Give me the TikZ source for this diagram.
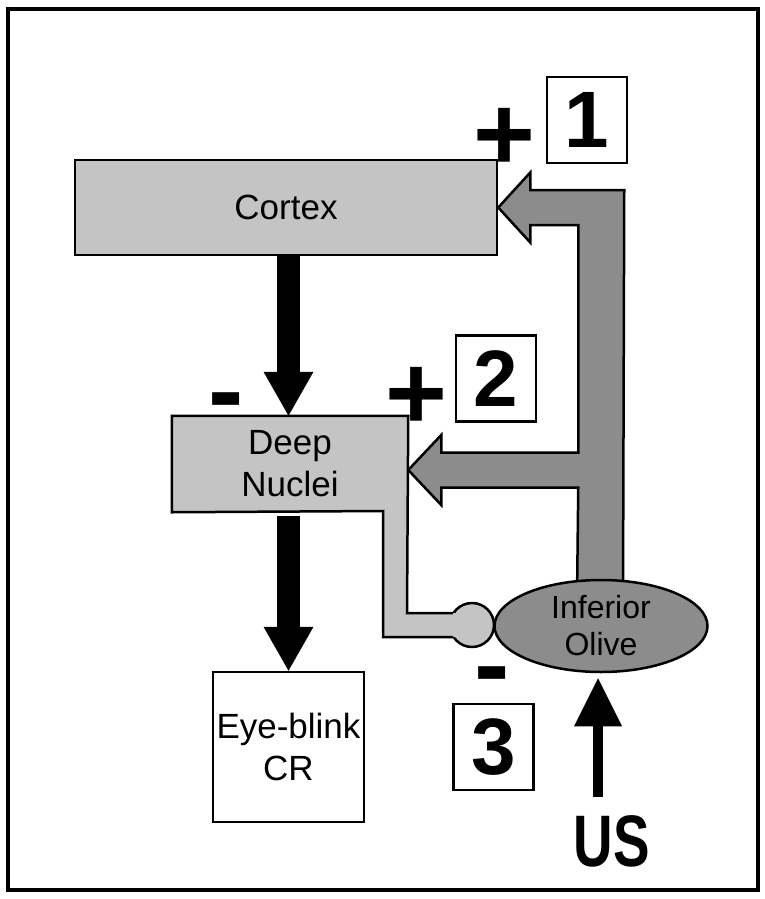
\documentclass[tikz,border=0pt]{standalone}
\usepackage{fontspec}
\setmainfont{Liberation Sans}
\usetikzlibrary{arrows.meta,positioning,shapes.geometric,calc,backgrounds}

\definecolor{lightcell}{gray}{0.77}
\definecolor{darkcell}{gray}{0.55}

\begin{document}
\begin{tikzpicture}[x=1pt, y=-1pt, line join=miter]
  % Styles
  \tikzstyle{region}=[draw, line width=2.5pt, fill=lightcell, inner sep=0pt, align=center, font=\fontsize{35}{42}\selectfont]
  \tikzstyle{outbox}=[draw, line width=2.5pt, fill=white, inner sep=0pt, align=center, font=\fontsize{35}{42}\selectfont]
  \tikzstyle{olivebox}=[ellipse, draw, line width=2.5pt, fill=darkcell, inner sep=0pt, align=center, minimum width=213pt, minimum height=92pt, font=\fontsize{32}{37}\selectfont]
  \tikzstyle{synapse}=[circle, draw, line width=2.5pt, fill=lightcell, inner sep=0pt, minimum size=44pt]
  \tikzstyle{numbox}=[draw, line width=2.5pt, inner sep=0pt, minimum width=80pt, minimum height=86pt, font=\fontsize{80}{80}\selectfont\bfseries]
  \tikzstyle{sign}=[inner sep=0pt, font=\fontsize{106}{106}\selectfont\bfseries]
  \tikzstyle{climb}=[draw, line width=2.5pt, fill=darkcell]
  \tikzstyle{bigarrow}=[line width=23pt, -{Triangle[width=50pt, length=44pt, line width=0pt]}]
  \tikzstyle{usarrow}=[line width=10pt, -{Triangle[width=48pt, length=48pt, line width=0pt]}]

  \useasboundingbox (0,0) rectangle (765,899);
  \draw[line width=3.5pt] (8,9) rectangle (758,890);

  % Boxes
  \node[region, minimum width=422pt, minimum height=95pt] (cortex) at (286,207.5) {Cortex};
  \node[region, draw=none, fill=none, minimum width=234pt, minimum height=94pt] (deep) at (290,464) {Deep\\Nuclei};
  \node[outbox, minimum width=151pt, minimum height=150pt] (cr) at (288.5,747) {Eye-blink\\CR};
  \node[olivebox] (olive) at (601,626) {Inferior\\Olive};

  % Deep nuclei body, inhibitory synapse and climbing fibres
  \begin{scope}[on background layer]
    \node[synapse] (inh) at (472,625) {};
    \fill[lightcell] (deep.north west) -- (deep.north east) -- (407,613) -- (465,613) -- (465,637)
      -- (383,637) -- (383,511) -- (deep.south west) -- cycle;
    \draw[line width=2.5pt] (453,613) -- (407,613) -- (deep.north east) -- (deep.north west)
      -- (deep.south west) -- (383,511) -- (383,637) -- (453,637);

    \coordinate (t1) at (cortex.east);
    \coordinate (t2) at ([yshift=-6pt]deep.east);
    \filldraw[climb] ($(olive.north)+(-24,20)$) -- ($(t2)+(170,17.5)$) -- ($(t2)+(33,17.5)$)
      -- ($(t2)+(33,35)$) -- (t2) -- ($(t2)+(33,-35)$) -- ($(t2)+(33,-17.5)$)
      -- ($(t2)+(170,-17.5)$) -- ($(t1)+(80,17.5)$) -- ($(t1)+(32,17.5)$) -- ($(t1)+(32,35)$)
      -- (t1) -- ($(t1)+(32,-35)$) -- ($(t1)+(32,-17.5)$) -- ($(t1)+(126,-17.5)$)
      -- ($(olive.north)+(22,20)$) -- cycle;
  \end{scope}

  % Main pathway
  \draw[bigarrow] (cortex.south -| cr.north) -- (deep.north -| cr.north);
  \draw[bigarrow, shorten <=4pt] (deep.south -| cr.north) -- (cr.north);

  % Signs and numbered sites
  \node[sign] (plus1) at (504,139) {+};
  \node[numbox] (site1) at (587,120) {1};
  \node[sign] (plus2) at (416,398) {+};
  \node[numbox] (site2) at (496,378.5) {2};
  \node[sign] (minus1) at (226,410) {-};
  \node[sign] (minus3) at (492,684) {-};
  \node[numbox] (site3) at (493.5,747) {3};

  % Unconditioned stimulus
  \node[inner sep=0pt, font=\fontsize{73}{73}\selectfont\bfseries] (us) at (612,841) {\scalebox{0.75}[1]{US}};
  \coordinate (usfoot) at (598,797);
  \draw[usarrow, shorten >=5pt] (usfoot) -- (usfoot |- olive.south);
\end{tikzpicture}
\end{document}
